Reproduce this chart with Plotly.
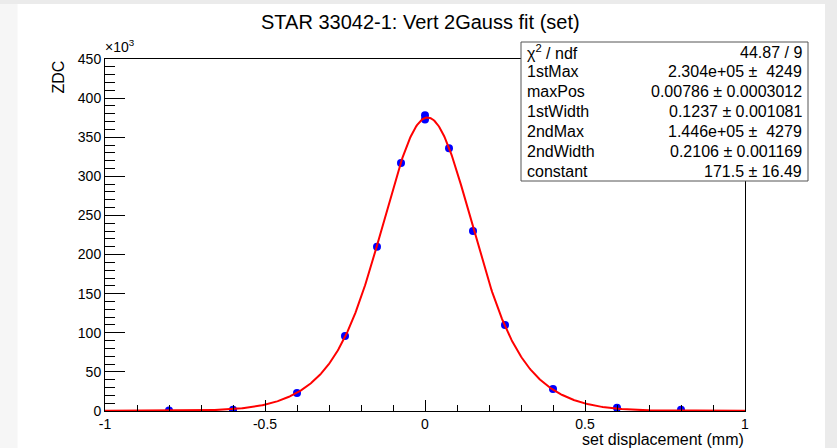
import numpy as np
import plotly.graph_objects as go

# ---- data ----
x_set = [-0.8, -0.6, -0.4, -0.25, -0.15, -0.075, 0.0, 0.0, 0.075, 0.15, 0.25, 0.4, 0.6, 0.8]
zdc_k = [0.5, 1.5, 23, 96, 210, 317, 378, 372.5, 336, 230, 110, 28, 4, 1.5]  # units of 10^3

# fit parameters (from the stats box)
fit_1stMax = 2.304e5
fit_maxPos = 0.00786
fit_1stWidth = 0.1237
fit_2ndMax = 1.446e5
fit_2ndWidth = 0.2106
fit_constant = 171.5

stat_labels = ["χ<sup>2</sup> / ndf", "1stMax", "maxPos", "1stWidth", "2ndMax", "2ndWidth", "constant"]
stat_values = ["44.87 / 9", "2.304e+05 ±\u00a0\u00a04249", "0.00786 ± 0.0003012", "0.1237 ± 0.001081",
               "1.446e+05 ±\u00a0\u00a04279", "0.2106 ± 0.001169", "171.5 ± 16.49"]

x_ticks = [-1, -0.5, 0, 0.5, 1]
x_ticktext = ["-1", "-0.5", "0", "0.5", "1"]
y_ticks = [0, 50, 100, 150, 200, 250, 300, 350, 400, 450]

# ---- geometry (pixels) ----
W, H = 837, 448
L, R, T, B = 105, 745, 59, 411
pw, ph = R - L, B - T

def px(xp):
    return (xp - L) / pw

def py(yp):
    return (B - yp) / ph

FONT = "Liberation Sans, Arial, Helvetica, sans-serif"

xf = np.linspace(-1, 1, 801)
yf = (fit_1stMax * np.exp(-0.5 * ((xf - fit_maxPos) / fit_1stWidth) ** 2)
      + fit_2ndMax * np.exp(-0.5 * ((xf - fit_maxPos) / fit_2ndWidth) ** 2)
      + fit_constant) / 1000.0

fig = go.Figure()
fig.add_trace(go.Scatter(x=x_set, y=zdc_k, mode="markers",
                         marker=dict(color="#0000ff", size=8, line=dict(width=0)),
                         showlegend=False, hoverinfo="skip"))
fig.add_trace(go.Scatter(x=xf, y=yf, mode="lines", line=dict(color="#ff0000", width=2),
                         showlegend=False, hoverinfo="skip"))

shapes = [
    # page strips
    dict(type="rect", xref="paper", yref="paper", x0=px(0), x1=px(17.5), y0=py(H), y1=py(0),
         fillcolor="#f6f6f6", line=dict(width=0), layer="below"),
    dict(type="rect", xref="paper", yref="paper", x0=px(0), x1=px(W), y0=py(4), y1=py(0),
         fillcolor="#ebebeb", line=dict(width=0), layer="below"),
    dict(type="rect", xref="paper", yref="paper", x0=px(825), x1=px(W), y0=py(H), y1=py(0),
         fillcolor="#ebebeb", line=dict(width=0), layer="below"),
    # stats box
    dict(type="rect", xref="paper", yref="paper", x0=px(521), x1=px(808), y0=py(181), y1=py(42),
         fillcolor="white", line=dict(color="#555555", width=1), layer="above"),
]

annotations = [
    dict(text="STAR 33042-1: Vert 2Gauss fit (set)", xref="paper", yref="paper",
         x=px(420), y=py(22), xanchor="center", yanchor="middle", showarrow=False,
         font=dict(family=FONT, size=20, color="black")),
    dict(text="ZDC", xref="paper", yref="paper", x=px(58), y=py(59), xanchor="center", yanchor="top",
         textangle=-90, showarrow=False, font=dict(family=FONT, size=16, color="black")),
    dict(text="set displacement (mm)", xref="paper", yref="paper", x=px(746), y=py(439.5),
         xanchor="right", yanchor="middle", showarrow=False, font=dict(family=FONT, size=16, color="black")),
    dict(text="×10<sup>3</sup>", xref="paper", yref="paper", x=px(103), y=py(57),
         xanchor="left", yanchor="bottom", showarrow=False, font=dict(family=FONT, size=14, color="black")),
]
for i, (lab, val) in enumerate(zip(stat_labels, stat_values)):
    yc = 52 + i * 19.9
    annotations.append(dict(text=lab, xref="paper", yref="paper", x=px(525), y=py(yc),
                            xanchor="left", yanchor="middle", showarrow=False,
                            font=dict(family=FONT, size=16, color="black")))
    annotations.append(dict(text=val, xref="paper", yref="paper", x=px(804), y=py(yc),
                            xanchor="right", yanchor="middle", showarrow=False,
                            font=dict(family=FONT, size=16, color="black")))

fig.update_layout(
    width=W, height=H,
    margin=dict(l=L, r=W - R, t=T, b=H - B, pad=0),
    paper_bgcolor="white", plot_bgcolor="white",
    shapes=shapes, annotations=annotations,
    font=dict(family=FONT, size=14, color="black"),
    xaxis=dict(range=[-1, 1], tickvals=x_ticks, ticktext=x_ticktext, ticks="inside", ticklen=11,
               tickcolor="black", tickwidth=1, showgrid=False, zeroline=False,
               showline=True, linecolor="black", linewidth=1, mirror=True,
               minor=dict(dtick=0.1, tick0=0, ticks="inside", ticklen=6, tickcolor="black", showgrid=False),
               tickfont=dict(family=FONT, size=14), fixedrange=True),
    yaxis=dict(range=[0, 450], tickvals=y_ticks, ticks="inside", ticklen=20,
               tickcolor="black", tickwidth=1, showgrid=False, zeroline=False,
               showline=True, linecolor="black", linewidth=1, mirror=True,
               minor=dict(dtick=10, tick0=0, ticks="inside", ticklen=10, tickcolor="black", showgrid=False),
               tickfont=dict(family=FONT, size=14), fixedrange=True),
)

fig.write_html("out.html")
